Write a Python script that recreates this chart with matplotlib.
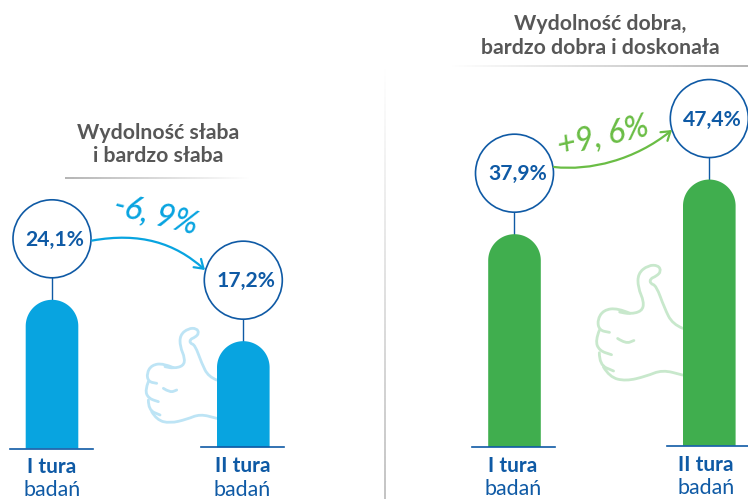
import numpy as np
import matplotlib
matplotlib.use('Agg')
import matplotlib.pyplot as plt
from matplotlib.path import Path
from matplotlib.patches import PathPatch, Circle, FancyArrowPatch, Polygon
from matplotlib.colors import to_rgb

# Dane
tury = ['I tura', 'II tura']
podpis = 'badań'
slaba = [24.1, 17.2]
dobra = [37.9, 47.4]
tytul_slaba = 'Wydolność słaba\ni bardzo słaba'
tytul_dobra = 'Wydolność dobra,\nbardzo dobra i doskonała'
zmiana_slaba = '-6, 9%'
zmiana_dobra = '+9, 6%'

NIEBIESKI = '#08a4e0'
ZIELONY = '#40ae4e'
GRANAT = '#0f5aa5'
SZARY = '#575757'
FONT = 'Lato'

fig = plt.figure(figsize=(7.48, 4.99), dpi=100)
ax = fig.add_axes([0, 0, 1, 1])
ax.set_xlim(0, 748)
ax.set_ylim(499, 0)
ax.axis('off')

R = 39
SZER = 26.3


def kreska(x0, y0, x1, y1, a0, a1, kolor='#b5b5b5'):
    # linia z gradientem przezroczystosci
    n = 200
    grad = np.linspace(a0, a1, n)
    img = np.zeros((1, n, 4)) if x1 - x0 > y1 - y0 else np.zeros((n, 1, 4))
    img[..., :3] = to_rgb(kolor)
    img[..., 3] = grad.reshape(img.shape[:2])
    ax.imshow(img, extent=[x0, x1, y1, y0], aspect='auto', zorder=1, interpolation='bilinear')


def slupek(x, wartosc, baza, skala, kolor):
    top = baza - wartosc * skala
    t = np.linspace(np.pi, 0, 60)
    luk = np.column_stack([x + SZER * np.cos(t), top + SZER - SZER * np.sin(t)])
    pts = np.vstack([[x - SZER, baza], luk, [x + SZER, baza]])
    ax.add_patch(Polygon(pts, closed=True, fc=kolor, ec='none', zorder=3))
    # kolko z wartoscia
    cy = top - 61
    ax.plot([x, x], [cy + R, top], color=GRANAT, lw=1, zorder=2)
    ax.add_patch(Circle((x, cy), R, fc='white', ec=GRANAT, lw=1.2, zorder=4))
    ax.text(x + 3, cy + 1, f'{wartosc:.1f}%'.replace('.', ','), color=GRANAT, fontsize=15.2,
            fontweight='bold', family=FONT, ha='center', va='center', zorder=5)
    ax.plot([x - 42, x + 41], [baza, baza], color=GRANAT, lw=1.2, zorder=4)
    return cy


def podpisy(x, y, tura):
    ax.text(x, y, tura, color=GRANAT, fontsize=15, fontweight='bold', family=FONT, ha='center', va='center')
    ax.text(x, y + 23.5, podpis, color=GRANAT, fontsize=15.4, family=FONT, ha='center', va='center')


def kontur(punkty, x0, y0, s, kolor):
    # gladka linia przez punkty (wspolrzedne wzgledem nadgarstka)
    p = np.array(punkty, float) * s / 3 + [x0, y0]
    verts = [p[0]]
    codes = [Path.MOVETO]
    for i in range(1, len(p) - 1):
        verts += [p[i], (p[i] + p[i + 1]) / 2]
        codes += [Path.CURVE3, Path.CURVE3]
    verts.append(p[-1])
    codes.append(Path.LINETO)
    ax.add_patch(PathPatch(Path(verts, codes), fc='none', ec=kolor, lw=2, capstyle='round', zorder=2))


kciuk = [
    [(0, 0), (-25, -10), (-45, -50), (-65, -105), (-80, -110), (-80, -122), (-65, -128),
     (-53, -140), (-60, -155), (-85, -155), (-110, -135), (-110, -100), (-95, -65),
     (-100, -42), (-130, -35), (-155, -40)],
    [(-130, -37), (-160, -50), (-195, -45), (-210, -20), (-205, 5), (-180, 10)],
    [(-205, 5), (-215, 30), (-205, 55), (-175, 65)],
    [(-205, 60), (-205, 90), (-170, 105)],
    [(-195, 95), (-180, 120), (-140, 130), (-90, 118), (-50, 102), (0, 115)],
    [(-160, 25), (-140, 38), (-120, 30)],
]

for linia in kciuk:
    kontur(linia, 216.7, 380, 1.0, '#bde4f5')
    kontur(linia, 682.7, 328.3, 1.22, '#c8e8cc')

# panel lewy
skala_l = 6.17
slupek(52, slaba[0], 448.5, skala_l, NIEBIESKI)
slupek(243.3, slaba[1], 447.3, skala_l, NIEBIESKI)
podpisy(51.7, 467, tury[0])
podpisy(242.3, 466, tury[1])
ax.text(158, 144.5, tytul_slaba, color=SZARY, fontsize=15.3, fontweight='bold', family=FONT,
        ha='center', va='center', linespacing=1.2)
kreska(65, 177, 250, 179, 1, 0)

# panel prawy
skala_p = 5.615
slupek(514.5, dobra[0], 447, skala_p, ZIELONY)
slupek(709.3, dobra[1], 445.7, skala_p, ZIELONY)
podpisy(513, 465.7, tury[0])
podpisy(706, 465, tury[1])
ax.text(600, 36, tytul_dobra, color=SZARY, fontsize=15.3, fontweight='bold', family=FONT,
        ha='center', va='center', linespacing=1.2)
kreska(450, 64.5, 748, 66.5, 0, 1)
kreska(384.5, 66, 386.5, 499, 0, 1, '#c4c4c4')

# strzalki
sciezka_l = Path([(92, 240.6), (140, 232), (175, 243), (205, 270)],
                 [Path.MOVETO, Path.CURVE4, Path.CURVE4, Path.CURVE4])
ax.add_patch(FancyArrowPatch(path=sciezka_l, arrowstyle='->,head_length=6,head_width=4',
                             color=NIEBIESKI, lw=1.6, zorder=5))
sciezka_p = Path([(554, 167), (590, 171), (635, 160), (672, 130)],
                 [Path.MOVETO, Path.CURVE4, Path.CURVE4, Path.CURVE4])
ax.add_patch(FancyArrowPatch(path=sciezka_p, arrowstyle='->,head_length=6,head_width=4',
                             color='#6abd45', lw=1.6, zorder=5))

ax.text(156, 215, zmiana_slaba, color=NIEBIESKI, fontsize=23, style='italic', fontweight='medium',
        family=FONT, rotation=-14, ha='center', va='center', rotation_mode='anchor')
ax.text(603, 136, zmiana_dobra, color='#6abd45', fontsize=23, style='italic', fontweight='medium',
        family=FONT, rotation=13, ha='center', va='center', rotation_mode='anchor')

fig.savefig('out.png', dpi=100)
